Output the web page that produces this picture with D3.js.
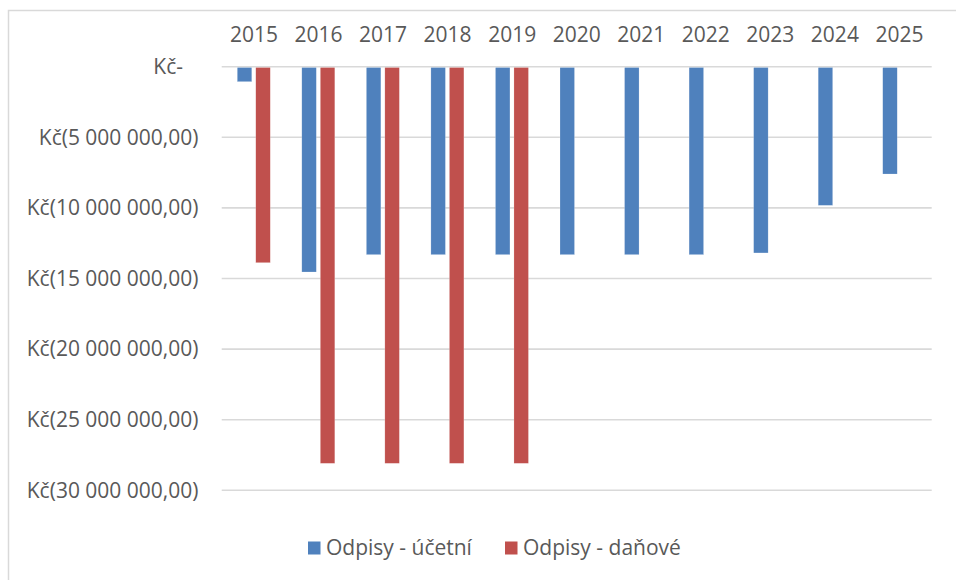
<!DOCTYPE html>
<html>
<head>
<meta charset="utf-8">
<script src="https://cdn.jsdelivr.net/npm/d3@7"></script>
<style>
  body { margin: 0; background: #fff; }
  svg { display: block; font-family: "Open Sans", sans-serif; }
</style>
</head>
<body>
<div id="chart"></div>
<script>
const years = ['2015', '2016', '2017', '2018', '2019', '2020', '2021', '2022', '2023', '2024', '2025'];
const seriesNames = ['Odpisy - účetní', 'Odpisy - daňové'];
const ucetni = [-1060000, -14540000, -13310000, -13310000, -13310000, -13310000, -13310000, -13310000, -13190000, -9820000, -7600000];
const danove = [-13880000, -28090000, -28090000, -28090000, -28090000, null, null, null, null, null, null];
const yTicks = [0, -5000000, -10000000, -15000000, -20000000, -25000000, -30000000];
const colors = ['#4F81BD', '#C0504D'];

const width = 956;
const height = 580;
const margin = { top: 66.7, right: 24.3, bottom: 89.7, left: 221.7 };

const svg = d3.select('#chart')
    .append('svg')
    .attr('width', width)
    .attr('height', height);

// chart frame (only top and left edges are visible in the crop)
svg.append('path')
    .attr('d', `M8.5,${height} V10.5 H${width}`)
    .attr('fill', 'none')
    .attr('stroke', '#d9d9d9')
    .attr('stroke-width', 1.5);

const x = d3.scaleBand()
    .domain(years)
    .range([margin.left, width - margin.right]);

const x1 = d3.scaleBand()
    .domain(seriesNames)
    .range([-16.7, 16.3])
    .paddingInner(0.216);

const y = d3.scaleLinear()
    .domain([0, -30000000])
    .range([margin.top, height - margin.bottom]);

const locale = d3.formatLocale({ decimal: ',', thousands: ' ', grouping: [3], currency: ['', ''] });
const fmt = locale.format(',.2f');
const tickLabel = v => v === 0 ? 'Kč-' : 'Kč(' + fmt(Math.abs(v)) + ')';

// gridlines
svg.append('g')
    .selectAll('line')
    .data(yTicks)
    .join('line')
    .attr('x1', margin.left)
    .attr('x2', width - margin.right)
    .attr('y1', d => y(d))
    .attr('y2', d => y(d))
    .attr('stroke', '#d9d9d9')
    .attr('stroke-width', 1.6);

// y labels
svg.append('g')
    .selectAll('text')
    .data(yTicks)
    .join('text')
    .attr('x', d => d === 0 ? 183 : 198.5)
    .attr('y', d => y(d))
    .attr('dy', '0.35em')
    .attr('text-anchor', 'end')
    .attr('fill', '#595959')
    .attr('font-size', 21)
    .text(tickLabel);

// year labels on top
svg.append('g')
    .selectAll('text')
    .data(years)
    .join('text')
    .attr('x', d => x(d) + x.bandwidth() / 2)
    .attr('y', 42.3)
    .attr('text-anchor', 'middle')
    .attr('fill', '#595959')
    .attr('font-size', 21)
    .text(d => d);

// bars
const rows = years.map((yr, i) => ({ year: yr, values: [ucetni[i], danove[i]] }));

const groups = svg.append('g')
    .selectAll('g')
    .data(rows)
    .join('g')
    .attr('transform', d => `translate(${x(d.year) + x.bandwidth() / 2},0)`);

groups.selectAll('rect')
    .data(d => d.values.map((v, k) => ({ name: seriesNames[k], value: v, k })).filter(e => e.value != null))
    .join('rect')
    .attr('x', d => x1(d.name))
    .attr('width', x1.bandwidth())
    .attr('y', d => y(0) + 0.8)
    .attr('height', d => y(d.value) - y(0) - 0.8)
    .attr('fill', d => colors[d.k])
    .attr('stroke', '#fff')
    .attr('stroke-opacity', 0.4)
    .attr('stroke-width', 0.5);

// legend
const legendItems = [
    { name: seriesNames[0], color: colors[0], x: 308 },
    { name: seriesNames[1], color: colors[1], x: 505 }
];
const legend = svg.append('g')
    .selectAll('g')
    .data(legendItems)
    .join('g')
    .attr('transform', d => `translate(${d.x},548)`);

legend.append('rect')
    .attr('x', 0)
    .attr('y', -6.5)
    .attr('width', 12.5)
    .attr('height', 13)
    .attr('fill', d => d.color);

legend.append('text')
    .attr('x', 18)
    .attr('dy', '0.35em')
    .attr('fill', '#595959')
    .attr('font-size', 21)
    .text(d => d.name);
</script>
</body>
</html>
